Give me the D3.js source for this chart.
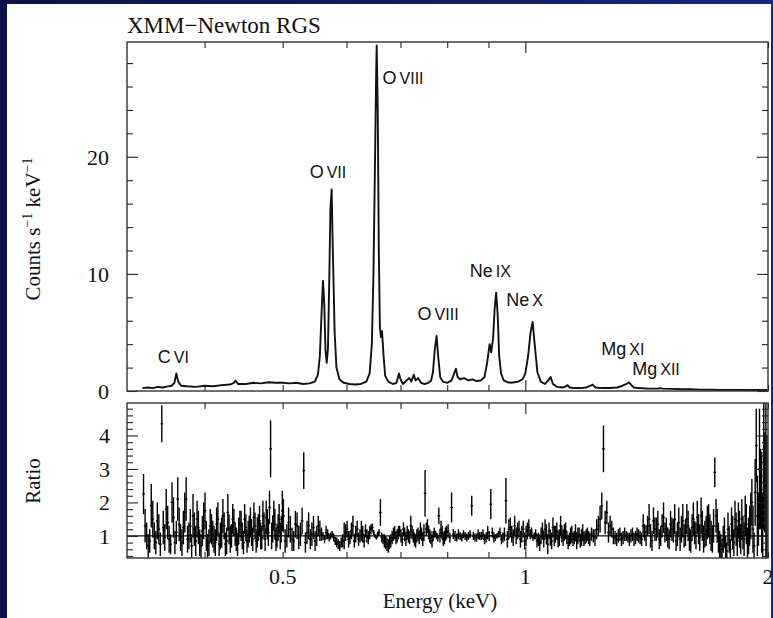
<!DOCTYPE html>
<html>
<head>
<meta charset="utf-8">
<script src="https://cdn.jsdelivr.net/npm/d3@7"></script>
<style>
  body { margin: 0; background: #0b1450; }
  svg { display: block; }
</style>
</head>
<body>
<div id="chart"></div>
<script>
// RGS spectrum (top) + data/model ratio (bottom), energy on a log axis

// spectrum: [energy keV, counts s^-1 keV^-1]
const spectrum = [
  [0.335,0.25],[0.340,0.3],[0.345,0.25],[0.350,0.35],[0.355,0.3],[0.360,0.4],[0.364,0.45],
  [0.367,0.7],[0.369,1.5],[0.371,0.8],[0.374,0.45],[0.380,0.4],[0.390,0.35],[0.400,0.45],
  [0.410,0.4],[0.420,0.5],[0.430,0.55],[0.435,0.7],[0.437,0.9],[0.440,0.6],[0.450,0.6],
  [0.460,0.7],[0.470,0.65],[0.480,0.75],[0.490,0.7],[0.500,0.7],[0.510,0.65],[0.520,0.7],
  [0.530,0.6],[0.540,0.65],[0.548,0.8],[0.553,1.4],[0.556,3.0],[0.559,7.0],[0.561,9.4],
  [0.563,7.5],[0.565,3.5],[0.567,2.4],[0.569,3.6],[0.571,9.0],[0.573,15.5],[0.575,17.2],
  [0.577,12.0],[0.580,5.0],[0.583,2.0],[0.588,1.0],[0.595,0.7],[0.605,0.6],[0.615,0.55],
  [0.625,0.6],[0.635,0.8],[0.641,1.5],[0.645,4.0],[0.648,10.0],[0.651,20.0],[0.653,27.0],
  [0.654,29.5],[0.656,24.0],[0.658,12.0],[0.660,5.5],[0.662,4.6],[0.664,5.1],[0.667,3.0],
  [0.670,1.3],[0.676,0.8],[0.685,0.6],[0.692,0.7],[0.697,1.5],[0.700,1.0],[0.705,0.6],
  [0.712,0.9],[0.718,1.1],[0.722,0.8],[0.727,1.4],[0.731,0.9],[0.736,1.1],[0.742,0.7],
  [0.750,0.6],[0.758,0.7],[0.764,0.9],[0.768,1.6],[0.772,3.5],[0.776,4.7],[0.780,2.8],
  [0.784,1.2],[0.790,0.8],[0.800,0.7],[0.810,0.9],[0.816,1.5],[0.820,1.9],[0.824,1.2],
  [0.830,1.0],[0.840,1.1],[0.850,0.9],[0.860,1.0],[0.870,0.85],[0.880,0.9],[0.890,1.2],
  [0.897,2.5],[0.903,4.0],[0.907,3.3],[0.912,4.5],[0.916,7.0],[0.920,8.4],[0.924,6.5],
  [0.928,3.0],[0.933,1.5],[0.940,0.9],[0.950,0.75],[0.960,0.7],[0.970,0.75],[0.980,0.8],
  [0.992,1.0],[1.000,1.5],[1.008,3.0],[1.015,5.0],[1.021,5.9],[1.027,4.0],[1.035,1.6],
  [1.045,0.8],[1.058,0.6],[1.068,0.9],[1.075,1.2],[1.082,0.6],[1.095,0.35],[1.110,0.3],
  [1.120,0.35],[1.128,0.5],[1.135,0.3],[1.150,0.25],[1.170,0.25],[1.190,0.3],[1.205,0.45],
  [1.212,0.55],[1.222,0.3],[1.240,0.25],[1.270,0.25],[1.300,0.3],[1.320,0.45],[1.335,0.6],
  [1.345,0.75],[1.352,0.55],[1.362,0.3],[1.380,0.25],[1.420,0.2],[1.460,0.2],[1.470,0.25],
  [1.480,0.2],[1.520,0.18],[1.560,0.15],[1.600,0.15],[1.650,0.12],[1.700,0.12],[1.750,0.1],
  [1.800,0.1],[1.850,0.1],[1.900,0.08],[1.950,0.08],[1.995,0.08]
]

// ratio bins: [energy keV, data/model, 1-sigma error]
const ratioEven = [
  [0.336,2.25,0.6],[0.339,1.0,0.4],[0.342,0.85,0.35],[0.345,1.5,0.55],[0.348,0.8,0.35],
  [0.351,1.2,0.45],[0.354,4.35,0.55],[0.357,0.95,0.4],[0.360,1.4,0.5],[0.363,0.75,0.3],
  [0.366,1.55,0.6],[0.369,1.1,0.35],[0.372,1.35,0.5],[0.375,0.8,0.4],[0.378,1.7,0.6],
  [0.381,0.9,0.4],[0.384,1.3,0.5],[0.387,1.6,0.65],[0.390,0.85,0.45],[0.393,1.25,0.5],
  [0.396,0.7,0.35],[0.399,1.45,0.55],[0.402,1.0,0.45],[0.405,0.8,0.4],[0.408,1.2,0.45],
  [0.411,0.9,0.4],[0.414,1.35,0.5],[0.417,0.75,0.35],[0.420,1.1,0.45],[0.423,1.3,0.4],
  [0.426,0.85,0.4],[0.429,1.2,0.45],[0.432,1.0,0.35],[0.435,1.4,0.4],[0.438,0.9,0.35],
  [0.441,1.15,0.4],[0.444,1.3,0.45],[0.447,0.8,0.35],[0.450,1.25,0.4],[0.453,1.05,0.4],
  [0.456,1.4,0.45],[0.459,0.9,0.35],[0.462,1.3,0.4],[0.465,1.1,0.45],[0.468,1.45,0.45],
  [0.471,0.95,0.35],[0.474,1.3,0.4],[0.477,1.55,0.5],[0.480,1.1,0.4],[0.483,3.6,0.85],
  [0.486,1.2,0.4],[0.489,1.35,0.45],[0.492,1.0,0.35],[0.495,1.5,0.45],[0.498,1.2,0.4],
  [0.501,1.6,0.5],[0.506,1.0,0.35],[0.511,1.2,0.4],[0.516,0.85,0.3],[0.521,1.3,0.4],
  [0.526,1.05,0.35],[0.531,2.95,0.55],[0.536,1.1,0.35],[0.541,0.9,0.3],[0.546,1.25,0.35],
  [0.551,1.0,0.3],[0.556,1.15,0.3],[0.561,1.0,0.12],[0.566,1.1,0.2],[0.571,0.95,0.12],
  [0.576,1.05,0.1],[0.581,0.85,0.12],[0.586,0.75,0.15],[0.591,0.8,0.15],[0.596,1.0,0.4],
  [0.601,1.2,0.25],[0.606,0.95,0.2],[0.611,1.3,0.3],[0.616,1.05,0.25],[0.621,0.9,0.2],
  [0.626,1.15,0.3],[0.631,0.85,0.2],[0.636,1.0,0.2],[0.641,1.1,0.2],[0.646,1.25,0.12],
  [0.651,1.0,0.06],[0.656,1.05,0.08],[0.661,1.7,0.4],[0.666,0.9,0.15],[0.671,0.8,0.2],
  [0.676,0.7,0.2],[0.681,0.85,0.2],[0.686,1.05,0.2],[0.691,0.95,0.2],[0.696,1.1,0.2],
  [0.701,1.0,0.2],[0.706,1.2,0.2],[0.711,0.9,0.2],[0.716,1.0,0.2],[0.721,1.3,0.3],
  [0.726,1.0,0.2],[0.731,0.85,0.2],[0.736,1.05,0.2],[0.741,1.15,0.25],[0.746,0.9,0.2],
  [0.751,2.27,0.7],[0.756,1.3,0.2],[0.761,1.0,0.2],[0.766,0.85,0.2],[0.771,1.1,0.15],
  [0.776,1.0,0.1],[0.781,1.6,0.25],[0.786,1.2,0.25],[0.791,0.9,0.2],[0.796,1.05,0.2],
  [0.802,1.15,0.2],[0.810,1.85,0.45],[0.818,1.0,0.15],[0.826,1.05,0.15],[0.834,0.95,0.12],
  [0.842,1.0,0.12],[0.850,1.0,0.12],[0.858,1.9,0.3],[0.866,0.95,0.12],[0.874,1.05,0.15],
  [0.882,1.0,0.12],[0.890,0.9,0.15],[0.898,1.1,0.2],[0.906,1.95,0.45],[0.914,0.95,0.15],
  [0.922,1.0,0.08],[0.930,1.1,0.15],[0.938,0.95,0.15],[0.946,2.05,0.68],[0.954,1.2,0.3],
  [0.962,1.05,0.25],[0.970,1.3,0.3],[0.978,1.15,0.25],[0.986,0.9,0.25],[0.994,1.2,0.25],
  [1.002,1.0,0.3],[1.010,1.25,0.25],[1.018,1.1,0.15],[1.026,1.0,0.1],[1.034,0.85,0.2],
  [1.042,0.8,0.25],[1.050,1.15,0.25],[1.058,1.2,0.3],[1.066,0.75,0.3],[1.074,0.95,0.25],
  [1.082,1.25,0.3],[1.090,1.05,0.25],[1.098,0.9,0.25],[1.106,1.3,0.3],[1.114,0.95,0.25],
  [1.122,1.15,0.25],[1.130,0.8,0.2],[1.138,1.0,0.25],[1.146,0.9,0.2],[1.154,1.1,0.25],
  [1.162,1.0,0.25],[1.170,0.85,0.2],[1.178,1.1,0.25],[1.186,0.95,0.2],[1.194,1.05,0.2],
  [1.202,0.9,0.2],[1.214,1.0,0.2],[1.226,1.2,0.3],[1.238,1.5,0.4],[1.250,3.6,0.7],
  [1.262,1.7,0.35],[1.274,1.3,0.3],[1.286,1.0,0.25],[1.298,0.9,0.2],[1.310,1.05,0.2],
  [1.322,0.95,0.2],[1.334,1.0,0.15],[1.346,0.9,0.2],[1.358,1.05,0.2],[1.370,0.95,0.2],
  [1.382,1.0,0.2],[1.394,0.9,0.2],[1.406,1.1,0.25],[1.418,1.3,0.3],[1.430,1.0,0.35],
  [1.442,1.45,0.4],[1.454,1.2,0.35],[1.466,0.9,0.3],[1.478,1.3,0.35],[1.490,1.1,0.3],
  [1.502,0.95,0.3],[1.514,1.35,0.4],[1.526,1.15,0.35],[1.538,0.85,0.3],[1.550,1.4,0.45],
  [1.562,1.2,0.4],[1.574,1.0,0.35],[1.586,1.5,0.45],[1.598,0.9,0.35],[1.610,1.25,0.4],
  [1.622,1.1,0.35],[1.634,1.55,0.5],[1.646,0.95,0.4],[1.658,1.3,0.45],[1.670,1.05,0.4],
  [1.682,1.4,0.5],[1.694,1.2,0.45],[1.706,0.9,0.4],[1.718,2.9,0.45],[1.730,1.3,0.5],
  [1.742,0.75,0.4],[1.754,0.6,0.3],[1.766,1.1,0.45],[1.778,0.55,0.25],[1.790,0.9,0.4],
  [1.802,1.35,0.5],[1.814,0.8,0.4],[1.826,1.2,0.5],[1.838,1.45,0.55],[1.850,0.9,0.45],
  [1.862,1.1,0.5],[1.874,1.6,0.6],[1.886,0.8,0.45],[1.898,1.3,0.6],[1.910,2.0,0.7],
  [1.922,0.7,0.4],[1.934,3.7,1.1],[1.946,1.5,0.8],[1.958,2.4,1.2],[1.970,1.3,1.0],
  [1.982,2.6,1.5],[1.994,2.0,2.0]
]

// the bins that fall between the ones above
const ratioOdd = [
  [0.3375,1.3,0.5],[0.3405,0.7,0.35],[0.3435,1.9,0.65],[0.3465,1.0,0.4],[0.3495,1.45,0.55],
  [0.3525,0.75,0.35],[0.3555,1.25,0.5],[0.3585,1.8,0.6],[0.3615,0.9,0.4],[0.3645,2.0,0.6],
  [0.3675,0.8,0.35],[0.3705,2.1,0.65],[0.3735,0.95,0.4],[0.3765,1.25,0.5],[0.3795,2.1,0.65],
  [0.3825,1.0,0.4],[0.3855,0.7,0.35],[0.3885,1.2,0.5],[0.3915,1.5,0.55],[0.3945,0.8,0.4],
  [0.3975,1.15,0.45],[0.4005,1.75,0.55],[0.4035,0.7,0.35],[0.4065,1.3,0.5],[0.4095,1.05,0.4],
  [0.4125,0.8,0.4],[0.4155,1.5,0.5],[0.4185,1.0,0.4],[0.4215,1.6,0.5],[0.4245,0.75,0.35],
  [0.4275,1.7,0.55],[0.4305,0.9,0.4],[0.4335,1.5,0.45],[0.4365,1.05,0.35],[0.4395,0.75,0.35],
  [0.4425,1.35,0.4],[0.4455,1.0,0.4],[0.4485,1.5,0.45],[0.4515,0.85,0.35],[0.4545,1.2,0.4],
  [0.4575,1.1,0.4],[0.4605,1.55,0.45],[0.4635,0.85,0.35],[0.4665,1.25,0.4],[0.4695,1.0,0.4],
  [0.4725,1.6,0.45],[0.4755,0.9,0.35],[0.4785,1.35,0.45],[0.4815,1.85,0.5],[0.4845,1.0,0.4],
  [0.4875,1.6,0.45],[0.4905,0.9,0.35],[0.4935,1.25,0.4],[0.4965,1.0,0.4],[0.4995,1.75,0.6],
  [0.5035,0.85,0.35],[0.5085,1.4,0.45],[0.5135,0.9,0.35],[0.5185,1.35,0.4],[0.5235,0.95,0.35],
  [0.5285,1.45,0.4],[0.5335,0.8,0.3],[0.5385,1.3,0.4],[0.5435,1.05,0.35],[0.5485,0.85,0.3],
  [0.5535,1.3,0.3],[0.5585,1.05,0.2],[0.5635,0.9,0.12],[0.5685,1.05,0.15],[0.5735,1.0,0.1],
  [0.5785,0.95,0.12],[0.5835,0.8,0.15],[0.5885,0.7,0.15],[0.5935,0.85,0.2],[0.5985,1.1,0.25],
  [0.6035,0.9,0.25],[0.6085,1.15,0.25],[0.6135,0.85,0.2],[0.6185,1.2,0.25],[0.6235,1.0,0.2],
  [0.6285,1.05,0.25],[0.6335,1.15,0.2],[0.6385,0.95,0.2],[0.6435,1.2,0.15],[0.6485,1.1,0.08],
  [0.6535,0.95,0.06],[0.6585,1.1,0.1],[0.6635,0.95,0.15],[0.6685,0.85,0.2],[0.6735,0.75,0.2],
  [0.6785,0.8,0.2],[0.6835,0.95,0.2],[0.6885,1.1,0.2],[0.6935,1.0,0.2],[0.6985,1.15,0.15],
  [0.7035,0.9,0.2],[0.7085,1.05,0.2],[0.7135,1.1,0.2],[0.7185,0.95,0.2],[0.7235,1.1,0.2],
  [0.7285,0.9,0.2],[0.7335,1.0,0.2],[0.7385,0.95,0.2],[0.7435,1.05,0.2],[0.7485,1.1,0.25],
  [0.7535,1.2,0.2],[0.7585,1.1,0.2],[0.7635,0.95,0.2],[0.7685,1.0,0.15],[0.7735,1.05,0.1],
  [0.7785,0.95,0.12],[0.7835,1.0,0.2],[0.7885,1.1,0.2],[0.7935,0.95,0.2],[0.7985,1.1,0.2],
  [0.806,0.95,0.15],[0.814,1.05,0.15],[0.822,0.95,0.12],[0.830,1.0,0.12],[0.838,1.05,0.12],
  [0.846,0.95,0.12],[0.854,1.05,0.12],[0.862,1.0,0.12],[0.870,0.95,0.12],[0.878,1.0,0.12],
  [0.886,1.05,0.15],[0.894,0.95,0.15],[0.902,1.0,0.15],[0.910,1.1,0.15],[0.918,0.95,0.1],
  [0.926,1.05,0.1],[0.934,0.9,0.15],[0.942,1.05,0.2],[0.950,0.9,0.25],[0.958,1.25,0.3],
  [0.966,0.95,0.25],[0.974,1.0,0.25],[0.982,1.2,0.25],[0.990,1.05,0.25],[0.998,0.85,0.25],
  [1.006,1.15,0.25],[1.014,1.05,0.15],[1.022,0.95,0.1],[1.030,1.05,0.15],[1.038,0.9,0.2],
  [1.046,1.0,0.25],[1.054,0.9,0.25],[1.062,1.05,0.3],[1.070,1.15,0.25],[1.078,0.85,0.25],
  [1.086,1.0,0.3],[1.094,1.15,0.25],[1.102,0.95,0.25],[1.110,1.05,0.25],[1.118,1.1,0.25],
  [1.126,0.95,0.2],[1.134,0.9,0.2],[1.142,1.05,0.25],[1.150,0.95,0.2],[1.158,0.85,0.25],
  [1.166,1.05,0.2],[1.174,0.95,0.25],[1.182,0.9,0.2],[1.190,1.0,0.2],[1.198,0.95,0.2],
  [1.208,1.05,0.2],[1.220,0.95,0.25],[1.232,1.3,0.3],[1.244,1.9,0.4],[1.256,1.4,0.35],
  [1.268,1.1,0.3],[1.280,1.2,0.25],[1.292,0.95,0.2],[1.304,1.0,0.2],[1.316,0.9,0.2],
  [1.328,1.05,0.2],[1.340,0.95,0.15],[1.352,1.0,0.2],[1.364,0.9,0.2],[1.376,1.05,0.2],
  [1.388,0.95,0.2],[1.400,1.3,0.35],[1.412,1.0,0.3],[1.424,1.5,0.45],[1.436,0.85,0.3],
  [1.448,1.2,0.35],[1.460,1.35,0.4],[1.472,1.0,0.3],[1.484,1.55,0.45],[1.496,1.2,0.35],
  [1.508,0.9,0.3],[1.520,1.2,0.35],[1.532,1.5,0.45],[1.544,1.05,0.35],[1.556,0.9,0.35],
  [1.568,1.45,0.5],[1.580,1.1,0.4],[1.592,1.3,0.45],[1.604,0.85,0.35],[1.616,1.5,0.5],
  [1.628,1.0,0.4],[1.640,1.2,0.45],[1.652,1.6,0.55],[1.664,0.9,0.4],[1.676,1.15,0.45],
  [1.688,1.45,0.5],[1.700,1.0,0.45],[1.712,1.3,0.5],[1.724,1.6,0.5],[1.736,0.95,0.45],
  [1.748,0.7,0.35],[1.760,0.9,0.4],[1.772,0.65,0.35],[1.784,1.2,0.5],[1.796,0.6,0.3],
  [1.808,1.1,0.5],[1.820,1.5,0.55],[1.832,0.85,0.45],[1.844,1.2,0.55],[1.856,1.5,0.6],
  [1.868,0.9,0.5],[1.880,1.35,0.6],[1.892,1.0,0.55],[1.904,1.6,0.7],[1.916,1.2,0.7],
  [1.928,2.3,1.0],[1.940,1.6,1.2],[1.952,3.0,1.8],[1.964,2.0,1.5],[1.976,3.2,2.0],
  [1.988,2.5,2.5]
]

// line identifications, anchored at [energy, counts] of the label's lower-left corner
const lineLabels = [
  { el:"C",  ion:"VI",   E:0.350, c:2.4  },
  { el:"O",  ion:"VII",  E:0.540, c:18.2 },
  { el:"O",  ion:"VIII", E:0.665, c:26.2 },
  { el:"O",  ion:"VIII", E:0.735, c:6.1  },
  { el:"Ne", ion:"IX",   E:0.853, c:9.7  },
  { el:"Ne", ion:"X",    E:0.947, c:7.3  },
  { el:"Mg", ion:"XI",   E:1.242, c:3.1  },
  { el:"Mg", ion:"XII",  E:1.357, c:1.4  }
]

// axis ticks
const energyLabels = [0.5, 1, 2]
const energyMinor  = [0.4, 0.5, 0.6, 0.7, 0.8, 0.9, 2]
const energyMajor  = [1]
const countsMajor  = [0, 10, 20]
const countsMinor  = [2, 4, 6, 8, 12, 14, 16, 18, 22, 24, 26, 28]
const ratioMajor   = [1, 2, 3, 4]
const ratioMinor   = [0.4, 0.6, 0.8, 1.2, 1.4, 1.6, 1.8, 2.2, 2.4, 2.6, 2.8,
                      3.2, 3.4, 3.6, 3.8, 4.2, 4.4, 4.6, 4.8]

const ratio = ratioEven.concat(ratioOdd)

const W = 773, H = 618
const left = 127, right = 768
const top1 = 42, bot1 = 391      // spectrum panel
const top2 = 403, bot2 = 558     // ratio panel

const svg = d3.select("#chart").append("svg")
  .attr("width", W).attr("height", H)

// navy slide frame + white page
const defs = svg.append("defs")
const grad = defs.append("linearGradient")
  .attr("id","navy").attr("x1",0).attr("x2",1).attr("y1",0).attr("y2",0)
grad.append("stop").attr("offset","0%").attr("stop-color","#0a1248")
grad.append("stop").attr("offset","100%").attr("stop-color","#17287a")
svg.append("rect").attr("width",W).attr("height",H).attr("fill","url(#navy)")
svg.append("rect").attr("x",7).attr("y",4).attr("width",764).attr("height",H-4).attr("fill","#fff")

defs.append("clipPath").attr("id","clip1")
  .append("rect").attr("x",left).attr("y",top1).attr("width",right-left).attr("height",bot1-top1)
defs.append("clipPath").attr("id","clip2")
  .append("rect").attr("x",left).attr("y",top2).attr("width",right-left).attr("height",bot2-top2)

const x  = d3.scaleLog().domain([0.3205, 2]).range([left, right])
const y1 = d3.scaleLinear().domain([0, 29.8]).range([bot1, top1])
const y2 = d3.scaleLinear().domain([0.34, 4.97]).range([bot2, top2])

const serif = "'Liberation Serif','Times New Roman',serif"
const sans  = "'Liberation Sans',Arial,sans-serif"
const ink = "#222"

// inward ticks on every side of a panel
function frameTicks(yScale, yTop, yBot, yMajor, yMinor) {
  const sets = [
    [d3.axisBottom(x).tickValues(energyMinor).tickSize(-6), yBot, 0],
    [d3.axisBottom(x).tickValues(energyMajor).tickSize(-11), yBot, 0],
    [d3.axisTop(x).tickValues(energyMinor).tickSize(-6), yTop, 0],
    [d3.axisTop(x).tickValues(energyMajor).tickSize(-11), yTop, 0],
    [d3.axisLeft(yScale).tickValues(yMinor).tickSize(-6), 0, left],
    [d3.axisLeft(yScale).tickValues(yMajor).tickSize(-11), 0, left],
    [d3.axisRight(yScale).tickValues(yMinor).tickSize(-6), 0, right],
    [d3.axisRight(yScale).tickValues(yMajor).tickSize(-11), 0, right]
  ]
  sets.forEach(([ax, ty, tx]) => {
    const g = svg.append("g")
      .attr("transform", `translate(${tx},${ty})`)
      .call(ax.tickFormat(""))
    g.select(".domain").remove()
    g.selectAll(".tick line").attr("stroke", ink).attr("stroke-width", 1.1)
  })
  svg.append("rect")
    .attr("x", left).attr("y", yTop).attr("width", right-left).attr("height", yBot-yTop)
    .attr("fill","none").attr("stroke","#333").attr("stroke-width",1.4)
}

// ---- top panel: spectrum ----
svg.append("path")
  .datum(spectrum)
  .attr("clip-path","url(#clip1)")
  .attr("fill","none").attr("stroke","#111").attr("stroke-width",1.9)
  .attr("stroke-linejoin","round")
  .attr("d", d3.line().x(d => x(d[0])).y(d => y1(d[1])))

frameTicks(y1, top1, bot1, countsMajor, countsMinor)

countsMajor.forEach(v => {
  svg.append("text")
    .attr("x", 109).attr("y", y1(v) + 8)
    .attr("text-anchor","end")
    .style("font-family", serif).style("font-size","22px").style("fill","#111")
    .text(v)
})

// line labels: element + smaller ionisation stage
lineLabels.forEach(d => {
  const t = svg.append("text")
    .attr("x", x(d.E)).attr("y", y1(d.c))
    .style("font-family", sans).style("fill","#111")
  t.append("tspan").style("font-size","18px").text(d.el)
  t.append("tspan").attr("dx", 3).style("font-size","16px").text(d.ion)
})

// ---- bottom panel: ratio ----
svg.append("line")
  .attr("x1", left).attr("x2", right)
  .attr("y1", y2(1)).attr("y2", y2(1))
  .attr("stroke","#111").attr("stroke-width",1.1)

const bars = svg.append("g").attr("clip-path","url(#clip2)")
bars.selectAll("line.err")
  .data(ratio)
  .join("line").attr("class","err")
  .attr("x1", d => x(d[0])).attr("x2", d => x(d[0]))
  .attr("y1", d => y2(d[1] - d[2])).attr("y2", d => y2(d[1] + d[2]))
  .attr("stroke","#000").attr("stroke-width",1.4)
bars.selectAll("line.bin")
  .data(ratio)
  .join("line").attr("class","bin")
  .attr("x1", d => x(d[0]) - 1.3).attr("x2", d => x(d[0]) + 1.3)
  .attr("y1", d => y2(d[1])).attr("y2", d => y2(d[1]))
  .attr("stroke","#000").attr("stroke-width",1.4)

frameTicks(y2, top2, bot2, ratioMajor, ratioMinor)

ratioMajor.forEach(v => {
  svg.append("text")
    .attr("x", 110).attr("y", y2(v) + 8)
    .attr("text-anchor","end")
    .style("font-family", serif).style("font-size","22px").style("fill","#111")
    .text(v)
})

energyLabels.forEach(v => {
  svg.append("text")
    .attr("x", x(v)).attr("y", 584)
    .attr("text-anchor","middle")
    .style("font-family", serif).style("font-size","22px").style("fill","#111")
    .text(v)
})

// axis titles
svg.append("text")
  .attr("x", 440).attr("y", 608)
  .attr("text-anchor","middle")
  .style("font-family", serif).style("font-size","21px").style("fill","#111")
  .text("Energy (keV)")

const yt = svg.append("text")
  .attr("transform","translate(40,229) rotate(-90)")
  .attr("text-anchor","middle")
  .style("font-family", serif).style("font-size","21px").style("fill","#111")
yt.append("tspan").text("Counts s")
yt.append("tspan").attr("dy",-8).style("font-size","14px").text("−1")
yt.append("tspan").attr("dy",8).text(" keV")
yt.append("tspan").attr("dy",-8).style("font-size","14px").text("−1")

svg.append("text")
  .attr("transform","translate(40,481) rotate(-90)")
  .attr("text-anchor","middle")
  .style("font-family", serif).style("font-size","21px").style("fill","#111")
  .text("Ratio")

svg.append("text")
  .attr("x", 127).attr("y", 33)
  .style("font-family", serif).style("font-size","23px").style("fill","#111")
  .text("XMM−Newton RGS")
</script>
</body>
</html>
